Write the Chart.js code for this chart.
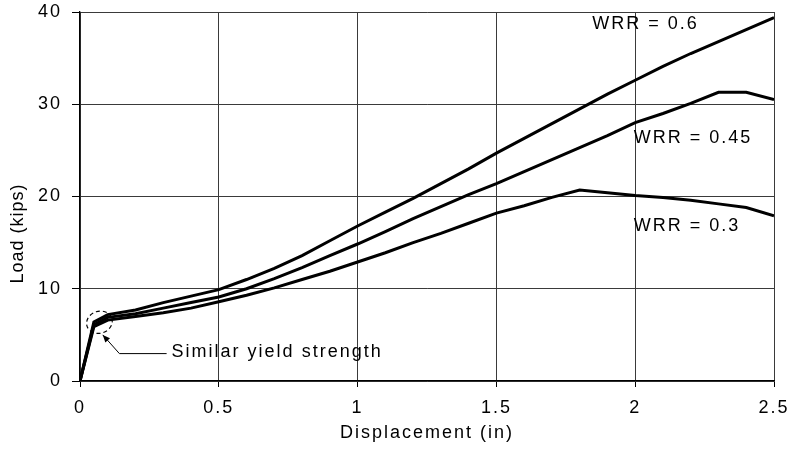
<!DOCTYPE html>
<html>
<head>
<meta charset="utf-8">
<script src="https://cdn.jsdelivr.net/npm/chart.js@4/dist/chart.umd.min.js"></script>
<style>
  html, body { margin: 0; padding: 0; background: #fff; }
  #wrap { width: 790px; height: 455px; }
</style>
</head>
<body>
<div id="wrap"><canvas id="chart-area"></canvas></div>
<script>
'use strict';

// displacement (in) and load (kips) for each web reinforcement ratio
var displacement = [0, 0.05, 0.1, 0.2, 0.3, 0.4, 0.5, 0.6, 0.7, 0.8, 0.9, 1.0, 1.1, 1.2, 1.3,
   1.4, 1.5, 1.6, 1.7, 1.8, 1.9, 2.0, 2.1, 2.2, 2.3, 2.4, 2.5];
var loadWrr06 = [0, 6.4, 7.2, 7.7, 8.5, 9.2, 9.9, 11.0, 12.2, 13.6, 15.2, 16.8, 18.3, 19.8, 21.4,
   23.0, 24.7, 26.3, 27.9, 29.5, 31.1, 32.6, 34.1, 35.5, 36.8, 38.1, 39.4];
var loadWrr045 = [0, 6.1, 6.9, 7.3, 7.9, 8.5, 9.1, 10.0, 11.1, 12.3, 13.6, 14.85, 16.2, 17.6, 18.9,
   20.2, 21.4, 22.7, 24.0, 25.3, 26.6, 28.0, 29.0, 30.1, 31.3, 31.3, 30.5];
var loadWrr03 = [0, 5.9, 6.6, 7.0, 7.4, 7.9, 8.6, 9.3, 10.1, 11.0, 11.9, 12.9, 13.9, 15.0, 16.0,
   17.1, 18.2, 19.0, 19.9, 20.7, 20.4, 20.1, 19.9, 19.6, 19.2, 18.8, 17.9];

var seriesNames = ['WRR = 0.6', 'WRR = 0.45', 'WRR = 0.3'];
var xTickLabels = ['0', '0.5', '1', '1.5', '2', '2.5'];
var yTickLabels = ['0', '10', '20', '30', '40'];

var FONT = '"Liberation Sans", Arial, sans-serif';

function points(loads) {
   return displacement.map(function (d, i) { return {x: d, y: loads[i]}; });
}

// where the curve names and the yield note sit, in data units
var nameSpots = [[1.845, 38.7], [1.995, 26.35], [1.995, 16.8]];
var note = {
   text: 'Similar yield strength',
   ring: [0.07, 6.37],
   tip: [0.082, 5.0],
   elbow: [0.142, 2.97],
   end: [0.312, 2.97],
   label: [0.33, 3.17]
};

var spacing = {
   id: 'spacing',
   beforeLayout: function (chart) { chart.ctx.letterSpacing = '2px'; },
   beforeDraw: function (chart) { chart.ctx.letterSpacing = '2px'; }
};

// keep end labels from pushing the plot area in
function noOverhang(s) {
   s.paddingTop = 0;
   s.paddingBottom = 0;
   s.paddingLeft = 0;
   s.paddingRight = 0;
}

var notes = {
   id: 'notes',
   afterDraw: function (chart) {
      var ctx = chart.ctx, xs = chart.scales.x, ys = chart.scales.y, area = chart.chartArea;
      function px(p) { return [xs.getPixelForValue(p[0]), ys.getPixelForValue(p[1])]; }
      ctx.save();
      ctx.fillStyle = '#000';
      ctx.strokeStyle = '#000';
      ctx.font = '18px ' + FONT;
      ctx.letterSpacing = '2px';
      ctx.textBaseline = 'middle';
      ctx.textAlign = 'left';
      nameSpots.forEach(function (s, i) {
         var p = px(s);
         ctx.fillText(seriesNames[i], p[0], p[1]);
      });

      // dashed ring round the yield point
      var c = px(note.ring);
      ctx.lineWidth = 1.2;
      ctx.setLineDash([4, 3]);
      ctx.beginPath();
      ctx.ellipse(c[0], c[1], 13, 11, -0.3, 0, Math.PI * 2);
      ctx.stroke();
      ctx.setLineDash([]);

      // leader line with arrow head
      var t = px(note.tip), e = px(note.elbow), n = px(note.end);
      ctx.lineWidth = 1;
      ctx.beginPath();
      ctx.moveTo(n[0], n[1]);
      ctx.lineTo(e[0], e[1]);
      ctx.lineTo(t[0], t[1]);
      ctx.stroke();
      var ang = Math.atan2(t[1] - e[1], t[0] - e[0]);
      ctx.beginPath();
      ctx.moveTo(t[0], t[1]);
      ctx.lineTo(t[0] - 8 * Math.cos(ang - 0.4), t[1] - 8 * Math.sin(ang - 0.4));
      ctx.lineTo(t[0] - 8 * Math.cos(ang + 0.4), t[1] - 8 * Math.sin(ang + 0.4));
      ctx.closePath();
      ctx.fill();

      var l = px(note.label);
      ctx.fillText(note.text, l[0], l[1]);

      // y axis title, centred between plot top and page bottom
      ctx.letterSpacing = '1px';
      ctx.translate(18, (area.top + chart.height) / 2);
      ctx.rotate(-Math.PI / 2);
      ctx.textAlign = 'center';
      ctx.fillText('Load (kips)', 0, 0);
      ctx.restore();
   }
};

var lineStyle = {
   showLine: true,
   borderColor: '#000',
   backgroundColor: '#000',
   borderWidth: 3,
   pointRadius: 0,
   tension: 0,
   fill: false
};

var config = {
   type: 'scatter',
   data: {
      datasets: [
         Object.assign({label: seriesNames[0], data: points(loadWrr06)}, lineStyle),
         Object.assign({label: seriesNames[1], data: points(loadWrr045)}, lineStyle),
         Object.assign({label: seriesNames[2], data: points(loadWrr03)}, lineStyle)
      ]
   },
   options: {
      responsive: true,
      maintainAspectRatio: false,
      animation: false,
      layout: { padding: { top: 12, right: 16, left: 0, bottom: 0 } },
      plugins: {
         legend: { display: false },
         tooltip: { enabled: false }
      },
      scales: {
         x: {
            type: 'linear',
            min: 0,
            max: 2.5,
            afterFit: function (s) { s.height = 74; noOverhang(s); },
            afterBuildTicks: function (s) {
               s.ticks = xTickLabels.map(function (t) { return {value: Number(t)}; });
            },
            ticks: {
               color: '#000',
               padding: 10,
               maxRotation: 0,
               font: { family: FONT, size: 18 },
               callback: function (v, i) { return xTickLabels[i]; }
            },
            grid: { color: '#3a3a3a', lineWidth: 1, tickLength: 6, tickColor: '#000' },
            border: { color: '#000', width: 1.3 },
            title: {
               display: true,
               text: 'Displacement (in)',
               color: '#000',
               font: { family: FONT, size: 18 },
               padding: { top: 0, bottom: 11 }
            }
         },
         y: {
            min: 0,
            max: 40,
            afterFit: function (s) { s.width = 80; noOverhang(s); },
            afterBuildTicks: function (s) {
               s.ticks = yTickLabels.map(function (t) { return {value: Number(t)}; });
            },
            ticks: {
               color: '#000',
               padding: 10,
               font: { family: FONT, size: 18 },
               callback: function (v, i) { return yTickLabels[i]; }
            },
            grid: { color: '#3a3a3a', lineWidth: 1, tickLength: 8, tickColor: '#000' },
            border: { color: '#000', width: 1.3 }
         }
      }
   },
   plugins: [spacing, notes]
};

window.myChart = new Chart(document.getElementById('chart-area').getContext('2d'), config);
</script>
</body>
</html>
